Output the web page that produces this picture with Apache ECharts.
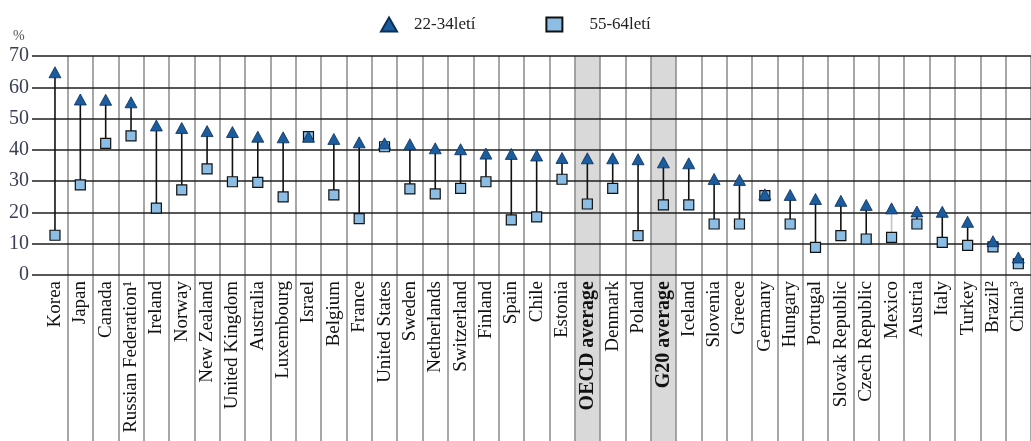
<!DOCTYPE html>
<html><head><meta charset="utf-8">
<script src="https://cdn.jsdelivr.net/npm/echarts@6/dist/echarts.min.js"></script>
<style>html,body{margin:0;padding:0;background:#fff}#c{width:1031px;height:441px}</style>
</head><body><div id="c"></div>
<script>
const categories = ['Korea','Japan','Canada','Russian Federation\u00b9','Ireland','Norway','New Zealand','United Kingdom','Australia','Luxembourg','Israel','Belgium','France','United States','Sweden','Netherlands','Switzerland','Finland','Spain','Chile','Estonia','OECD average','Denmark','Poland','G20 average','Iceland','Slovenia','Greece','Germany','Hungary','Portugal','Slovak Republic','Czech Republic','Mexico','Austria','Italy','Turkey','Brazil\u00b2','China\u00b3'];
const young = [64.8,56.1,56.0,55.2,47.8,47.0,46.0,45.7,44.2,44.0,44.2,43.5,42.4,42.1,41.8,40.5,40.2,38.8,38.7,38.2,37.4,37.3,37.3,37.0,36.0,35.7,30.7,30.4,25.8,25.6,24.3,23.7,22.4,21.3,20.3,20.2,17.0,10.8,5.6];
const old = [12.7,28.8,42.1,44.5,21.4,27.2,33.9,29.8,29.6,25.0,44.2,25.6,18.0,41.0,27.5,25.9,27.7,29.8,17.6,18.6,30.6,22.7,27.7,12.6,22.4,22.4,16.3,16.3,25.4,16.3,8.8,12.6,11.5,12.0,16.3,10.4,9.5,9.0,3.6];
const seriesNames = ['22-34let\u00ed','55-64let\u00ed'];
const highlighted = ['OECD average','G20 average'];
const greyConnector = ['Mexico'];
const yMin = 0, yMax = 70, yStep = 10;

(function () {
const FONT = 'Liberation Serif';
const chart = echarts.init(document.getElementById('c'), null, {renderer:'canvas'});
const notFirst = (i) => i !== 0;

chart.setOption({
  animation: false,
  backgroundColor: '#fff',
  title: {text: '%', left: 13, top: 29, padding: 0, textStyle: {fontFamily: FONT, fontSize: 14, fontWeight: 'normal', color: '#555'}},
  legend: {
    left: 380, top: 16, padding: 0, itemWidth: 16, itemHeight: 14, itemGap: 70,
    data: [
      {name: seriesNames[0], icon: 'triangle'},
      {name: seriesNames[1], icon: 'rect', textStyle: {padding: [0,0,0,22]}}
    ],
    textStyle: {fontFamily: FONT, fontSize: 17, color: '#222', padding: [0,0,0,12]}
  },
  grid: [
    {left: 32, right: -3, top: 56, bottom: 166},
    {left: 42.3, right: -3, top: 56, bottom: 166}
  ],
  xAxis: [
    {type: 'value', gridIndex: 0, show: false, min: 0, max: 1},
    {type: 'category', gridIndex: 1, data: categories, boundaryGap: true,
     axisLine: {show: false},
     axisTick: {show: true, length: 170, interval: notFirst, lineStyle: {color: '#8a8a8a', width: 1.5}},
     splitLine: {show: true, interval: notFirst, lineStyle: {color: '#8a8a8a', width: 1.5}},
     axisLabel: {interval: 0, rotate: 90, margin: 6, fontFamily: FONT, fontSize: 19, color: '#111',
       formatter: v => highlighted.includes(v) ? '{b|' + v + '}' : v,
       rich: {b: {fontFamily: FONT, fontSize: 20, fontWeight: 'bold', color: '#111'}}}
    }
  ],
  yAxis: [
    {type: 'value', gridIndex: 0, min: yMin, max: yMax, interval: yStep, z: 3,
     axisLine: {show: false}, axisTick: {show: false},
     splitLine: {show: true, lineStyle: {color: '#1e1e1e', width: 1.6}},
     axisLabel: {margin: 3, fontFamily: FONT, fontSize: 20, color: '#3a3f55'}},
    {type: 'value', gridIndex: 1, min: yMin, max: yMax, interval: yStep, show: false, splitLine: {show: false}}
  ],
  series: [
    {type: 'custom', name: 'connector', xAxisIndex: 1, yAxisIndex: 1, z: 3, silent: true,
     data: categories.map((c, i) => [i, old[i], young[i]]),
     encode: {x: 0, y: [1, 2]},
     renderItem: (params, api) => {
       const i = api.value(0);
       const p1 = api.coord([i, api.value(1)]);
       const p2 = api.coord([i, api.value(2)]);
       return {type: 'line', shape: {x1: p1[0], y1: p1[1], x2: p2[0], y2: p2[1]},
         style: {stroke: greyConnector.includes(categories[i]) ? '#c4c4c4' : '#111', lineWidth: 1.6}};
     }},
    {type: 'scatter', name: seriesNames[1], xAxisIndex: 1, yAxisIndex: 1, z: 4, data: old,
     symbol: 'rect', symbolSize: 10,
     itemStyle: {color: '#8cbde4', borderColor: '#111', borderWidth: 1.2, opacity: 1}},
    {type: 'scatter', name: seriesNames[0], xAxisIndex: 1, yAxisIndex: 1, z: 5, data: young,
     symbol: 'triangle', symbolSize: [12, 11],
     itemStyle: {color: '#1b5c9e', borderColor: '#0c2f57', borderWidth: 0.8, opacity: 1}}
  ]
});

const c0 = chart.convertToPixel({xAxisIndex: 1}, categories[0]);
const c1 = chart.convertToPixel({xAxisIndex: 1}, categories[1]);
const bw = c1 - c0;
const bandTop = chart.convertToPixel({yAxisIndex: 1}, yMax);
chart.setOption({
  graphic: highlighted.map(name => {
    const x = chart.convertToPixel({xAxisIndex: 1}, name);
    return {type: 'rect', z: -1, silent: true,
      shape: {x: x - bw / 2, y: bandTop, width: bw, height: chart.getHeight() - bandTop},
      style: {fill: '#d9d9d9'}};
  })
});
})();
</script></body></html>
